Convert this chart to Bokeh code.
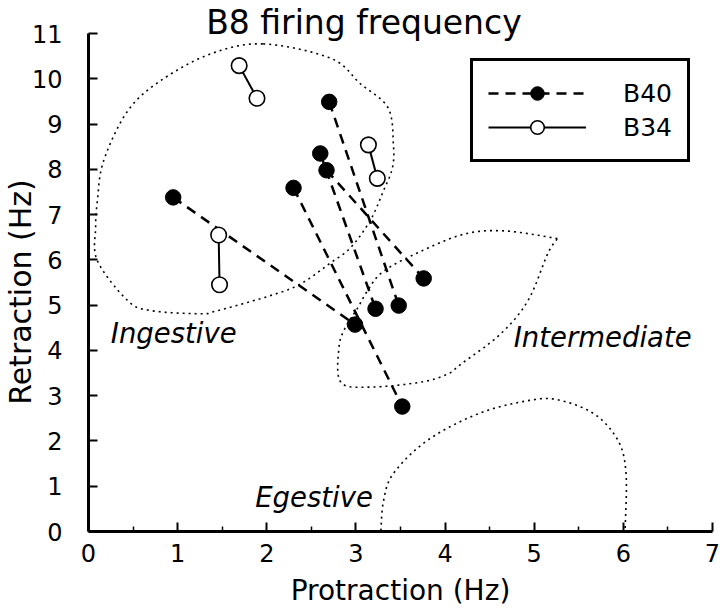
import numpy as np
from bokeh.plotting import figure
from bokeh.models import (Range1d, FixedTicker, Label, Legend, LegendItem,
                          ColumnDataSource)
from bokeh.embed import file_html
from bokeh.resources import INLINE

# ---------------- data ----------------
# B40 (filled, dashed connection): start point -> end point
b40_x0 = [0.95, 2.30, 2.70, 2.60, 2.67]
b40_y0 = [7.38, 7.59, 9.49, 8.35, 7.98]
b40_x1 = [2.99, 3.52, 3.48, 3.22, 3.76]
b40_y1 = [4.57, 2.76, 4.99, 4.92, 5.59]

# B34 (open, solid connection)
b34_x0 = [1.69, 1.46, 3.14]
b34_y0 = [10.29, 6.55, 8.54]
b34_x1 = [1.89, 1.47, 3.24]
b34_y1 = [9.57, 5.45, 7.80]

x_ticks = [0, 1, 2, 3, 4, 5, 6, 7]
x_minor = [0.5, 1.5, 2.5, 3.5, 4.5, 5.5, 6.5]
y_ticks = [0, 1, 2, 3, 4, 5, 6, 7, 8, 9, 10, 11]

# region outlines (annotation shapes)
ingest_x = [1.96, 2.72, 3.05, 3.36, 3.42, 3.41, 3.31, 3.16, 2.94, 2.72, 2.38,
            2.04, 1.45, 1.26, 0.70, 0.44, 0.10, 0.08, 0.10, 0.17, 0.44, 0.81, 1.37]
ingest_y = [10.77, 10.45, 9.89, 9.36, 8.56, 8.04, 7.53, 6.87, 6.27, 5.94, 5.47,
            5.21, 4.88, 4.81, 4.88, 5.10, 5.98, 6.72, 7.31, 8.19, 9.29, 9.96, 10.55]

inter_x = [5.26, 4.66, 4.18, 3.58, 3.28, 3.13, 3.02, 2.88, 2.81, 2.83, 3.16,
           3.73, 4.03, 4.18, 4.62, 4.93, 5.15, 5.26]
inter_y = [6.47, 6.64, 6.55, 6.05, 5.70, 5.32, 4.94, 4.50, 4.07, 3.30, 3.19,
           3.30, 3.48, 3.70, 4.36, 5.10, 6.13, 6.47]

egest_x = [3.28, 3.31, 3.42, 3.80, 4.37, 4.93, 5.26, 5.67, 5.94, 6.03, 6.02]
egest_y = [0.02, 0.68, 1.28, 2.01, 2.60, 2.89, 2.91, 2.60, 2.01, 1.28, 0.05]


def smooth(xs, ys, closed, n=24):
    pts = np.column_stack([xs, ys]).astype(float)
    if closed:
        P = np.vstack([pts[-1], pts, pts[0], pts[1]])
    else:
        P = np.vstack([pts[0], pts, pts[-1]])
    out = []
    t = np.linspace(0, 1, n, endpoint=False)[:, None]
    for i in range(1, len(P) - 2):
        p0, p1, p2, p3 = P[i - 1], P[i], P[i + 1], P[i + 2]
        seg = 0.5 * ((2 * p1) + (-p0 + p2) * t
                     + (2 * p0 - 5 * p1 + 4 * p2 - p3) * t ** 2
                     + (-p0 + 3 * p1 - 3 * p2 + p3) * t ** 3)
        out.append(seg)
    out.append(P[-2][None, :])
    arr = np.vstack(out)
    return arr[:, 0], arr[:, 1]


FONT = "DejaVu Sans"
W, H = 720, 610
# frame covers the whole canvas; data area: x 0..7 -> px 88..712, y 0..11 -> px 531..33
XS = 624 / 7.0
YS = 498 / 11.0
x_range = Range1d(-88 / XS, (W - 88) / XS)
y_range = Range1d(-(H - 531) / YS, 531 / YS)

p = figure(width=W, height=H, x_range=x_range, y_range=y_range, title=None,
           output_backend="svg", toolbar_location=None,
           min_border_left=0, min_border_right=0, min_border_top=0,
           min_border_bottom=0)
p.outline_line_color = None
p.xgrid.visible = False
p.ygrid.visible = False
p.background_fill_color = "white"
p.border_fill_color = "white"

# axes
for ax in (p.xaxis[0], p.yaxis[0]):
    ax.fixed_location = 0
    ax.axis_line_width = 3
    ax.axis_line_color = "black"
    ax.major_tick_in = 9
    ax.major_tick_out = 0
    ax.minor_tick_in = 5
    ax.minor_tick_out = 0
    ax.major_tick_line_width = 2
    ax.minor_tick_line_width = 1.5
    ax.major_label_text_font = FONT
    ax.major_label_text_font_size = "24px"
    ax.major_label_text_color = "black"

p.xaxis.bounds = (0, 7)
p.yaxis.bounds = (0, 11)
p.xaxis.ticker = FixedTicker(ticks=x_ticks, minor_ticks=x_minor)
p.yaxis.ticker = FixedTicker(ticks=y_ticks, minor_ticks=[])
p.xaxis.major_label_standoff = 12
p.yaxis.major_label_standoff = 26

# region outlines
for xs, ys, closed in ((ingest_x, ingest_y, True), (inter_x, inter_y, False),
                       (egest_x, egest_y, False)):
    sx, sy = smooth(xs, ys, closed)
    p.line(sx, sy, line_color="black", line_width=1.6, line_dash="2 4")

# connections
src40 = ColumnDataSource(dict(xs=[[a, b] for a, b in zip(b40_x0, b40_x1)],
                              ys=[[a, b] for a, b in zip(b40_y0, b40_y1)]))
src34 = ColumnDataSource(dict(xs=[[a, b] for a, b in zip(b34_x0, b34_x1)],
                              ys=[[a, b] for a, b in zip(b34_y0, b34_y1)]))
l40 = p.multi_line("xs", "ys", source=src40, line_color="black", line_width=2.5,
                   line_dash="10 7")
l34 = p.multi_line("xs", "ys", source=src34, line_color="black", line_width=2)

m40 = p.scatter(b40_x0 + b40_x1, b40_y0 + b40_y1, size=15.5, fill_color="black",
                line_color="black", line_width=1)
m34 = p.scatter(b34_x0 + b34_x1, b34_y0 + b34_y1, size=15.5, fill_color="white",
                line_color="black", line_width=1.6)

legend = Legend(items=[LegendItem(label="B40", renderers=[l40, m40]),
                       LegendItem(label="B34", renderers=[l34, m34])],
                location=(470, H - 162))
legend.border_line_color = "black"
legend.border_line_alpha = 1
legend.border_line_width = 3
legend.background_fill_color = "white"
legend.background_fill_alpha = 1
legend.label_text_font = FONT
legend.label_text_font_size = "25px"
legend.label_text_color = "black"
legend.padding = 15
legend.spacing = 0
legend.margin = 0
legend.glyph_height = 34
legend.glyph_width = 98
legend.label_height = 34
legend.label_standoff = 37
p.add_layout(legend, "center")

# texts
p.add_layout(Label(x=3.09, y=11.25, text="B8 firing frequency", text_font=FONT,
                   text_font_size="33px", text_align="center",
                   text_baseline="alphabetic", text_color="black"))
p.add_layout(Label(x=3.5, y=-1.31, text="Protraction (Hz)", text_font=FONT,
                   text_font_size="28px", text_align="center",
                   text_baseline="alphabetic", text_color="black"))
p.add_layout(Label(x=-0.765, y=5.29, text="Retraction (Hz)", text_font=FONT,
                   text_font_size="30px", text_align="center", angle=np.pi / 2,
                   text_baseline="alphabetic", text_color="black"))
for tx, ty, txt in ((0.25, 4.38, "Ingestive"), (4.77, 4.29, "Intermediate"),
                    (1.87, 0.77, "Egestive")):
    p.add_layout(Label(x=tx, y=ty, text=txt, text_font=FONT,
                       text_font_size="27.5px", text_font_style="italic",
                       text_align="left", text_baseline="alphabetic",
                       text_color="black"))

open("out.html", "w").write(file_html(p, INLINE))
